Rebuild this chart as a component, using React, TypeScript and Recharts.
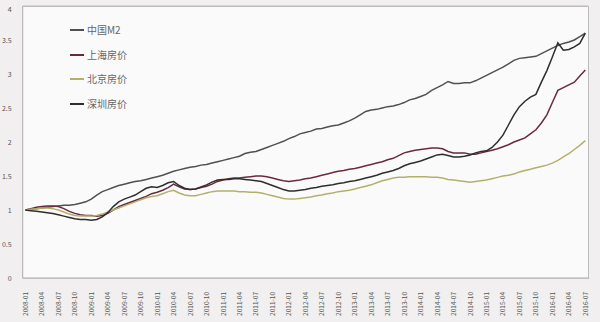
import React from 'react';
import { LineChart, Line, XAxis, YAxis, CartesianGrid, Legend } from 'recharts';

const years = ['2008', '2009', '2010', '2011', '2012', '2013', '2014', '2015', '2016'];
const months = ['01', '02', '03', '04', '05', '06', '07', '08', '09', '10', '11', '12'];
const categories: string[] = [];
years.forEach((y) => months.forEach((m) => { if (!(y === '2016' && Number(m) > 7)) categories.push(`${y}-${m}`); }));

const m2 = [
  1.00, 1.01, 1.02, 1.03, 1.04, 1.05, 1.06, 1.07, 1.07, 1.08, 1.10, 1.12,
  1.16, 1.22, 1.27, 1.30, 1.33, 1.36, 1.38, 1.40, 1.42, 1.43, 1.45, 1.47,
  1.49, 1.51, 1.54, 1.57, 1.59, 1.61, 1.63, 1.64, 1.66, 1.67, 1.69, 1.71,
  1.73, 1.75, 1.77, 1.79, 1.83, 1.85, 1.86, 1.89, 1.92, 1.95, 1.98, 2.01,
  2.05, 2.08, 2.12, 2.14, 2.16, 2.19, 2.20, 2.22, 2.24, 2.25, 2.28, 2.31,
  2.35, 2.40, 2.45, 2.47, 2.48, 2.50, 2.52, 2.53, 2.55, 2.58, 2.62, 2.64,
  2.67, 2.70, 2.76, 2.80, 2.84, 2.89, 2.86, 2.86, 2.87, 2.87, 2.90, 2.94,
  2.98, 3.02, 3.06, 3.10, 3.15, 3.20, 3.23, 3.24, 3.25, 3.26, 3.30, 3.34,
  3.38, 3.42, 3.45, 3.47, 3.50, 3.55, 3.60,
];

const shanghai = [
  1.00, 1.02, 1.04, 1.05, 1.06, 1.06, 1.05, 1.02, 0.98, 0.95, 0.93, 0.92,
  0.92, 0.91, 0.92, 0.95, 1.00, 1.05, 1.08, 1.11, 1.14, 1.17, 1.20, 1.24,
  1.26, 1.29, 1.33, 1.38, 1.34, 1.31, 1.30, 1.31, 1.33, 1.35, 1.38, 1.42,
  1.44, 1.46, 1.47, 1.47, 1.48, 1.49, 1.50, 1.50, 1.49, 1.47, 1.45, 1.43,
  1.42, 1.43, 1.44, 1.46, 1.47, 1.49, 1.51, 1.53, 1.55, 1.57, 1.58, 1.60,
  1.61, 1.63, 1.65, 1.67, 1.69, 1.71, 1.74, 1.76, 1.80, 1.84, 1.86, 1.88,
  1.89, 1.90, 1.91, 1.91, 1.90, 1.86, 1.84, 1.84, 1.84, 1.82, 1.82, 1.84,
  1.86, 1.88, 1.90, 1.93, 1.96, 2.00, 2.03, 2.06, 2.12, 2.18, 2.28, 2.40,
  2.58, 2.76, 2.80, 2.84, 2.88, 2.97, 3.06,
];

const beijing = [
  1.00, 1.01, 1.02, 1.03, 1.03, 1.02, 1.00, 0.97, 0.94, 0.92, 0.91, 0.91,
  0.91, 0.92, 0.94, 0.97, 1.00, 1.03, 1.06, 1.09, 1.12, 1.15, 1.18, 1.20,
  1.21, 1.24, 1.27, 1.29, 1.25, 1.22, 1.21, 1.21, 1.23, 1.25, 1.27, 1.28,
  1.28, 1.28, 1.28, 1.27, 1.27, 1.26, 1.26, 1.25, 1.23, 1.21, 1.19, 1.17,
  1.16, 1.16, 1.17, 1.18, 1.19, 1.21, 1.22, 1.24, 1.25, 1.27, 1.28, 1.29,
  1.31, 1.33, 1.35, 1.37, 1.40, 1.43, 1.45, 1.47, 1.48, 1.48, 1.49, 1.49,
  1.49, 1.49, 1.48, 1.48, 1.47, 1.45, 1.44, 1.43, 1.42, 1.41, 1.42, 1.43,
  1.44, 1.46, 1.48, 1.50, 1.51, 1.53, 1.56, 1.58, 1.60, 1.62, 1.64, 1.66,
  1.69, 1.73, 1.78, 1.83, 1.89, 1.95, 2.02,
];

const shenzhen = [
  1.00, 0.99, 0.98, 0.97, 0.96, 0.95, 0.93, 0.91, 0.89, 0.87, 0.86, 0.86,
  0.85, 0.86, 0.90, 0.96, 1.05, 1.12, 1.16, 1.19, 1.22, 1.27, 1.32, 1.34,
  1.33, 1.36, 1.40, 1.42, 1.36, 1.32, 1.30, 1.31, 1.34, 1.37, 1.41, 1.44,
  1.45, 1.45, 1.46, 1.46, 1.45, 1.44, 1.43, 1.42, 1.39, 1.36, 1.33, 1.30,
  1.28, 1.28, 1.29, 1.30, 1.32, 1.33, 1.35, 1.36, 1.37, 1.39, 1.40, 1.42,
  1.43, 1.45, 1.47, 1.49, 1.51, 1.54, 1.56, 1.58, 1.61, 1.65, 1.68, 1.70,
  1.72, 1.75, 1.78, 1.81, 1.82, 1.80, 1.78, 1.78, 1.79, 1.81, 1.84, 1.86,
  1.87, 1.92, 2.00, 2.10, 2.25, 2.40, 2.52, 2.60, 2.66, 2.70, 2.88, 3.05,
  3.25, 3.46, 3.35, 3.36, 3.40, 3.45, 3.60,
];

const yTicks = [0, 0.5, 1, 1.5, 2, 2.5, 3, 3.5, 4];

const seriesNames = ['中国M2', '上海房价', '北京房价', '深圳房价'];
const seriesKeys = ['m2', 'shanghai', 'beijing', 'shenzhen'];
const seriesColors = ['#505050', '#6a2a3c', '#b3b06c', '#2e2e2e'];

const data = categories.map((c, i) => ({
  month: c,
  m2: m2[i],
  shanghai: shanghai[i],
  beijing: beijing[i],
  shenzhen: shenzhen[i],
}));

const FONT = '"Noto Sans CJK SC", "Noto Sans", sans-serif';

const XTick = (props: any) => {
  const { x, y, payload } = props;
  return (
    <g transform={`translate(${x},${y + 6})`}>
      <text x={0} y={0} dy={2.5} textAnchor="end" transform="rotate(-90)" fontSize={6.5} fill="#555" fontFamily={FONT}>
        {payload.value}
      </text>
    </g>
  );
};

const YTick = (props: any) => {
  const { x, y, payload } = props;
  return (
    <text x={x - 3} y={y} dy={2.5} textAnchor="end" fontSize={7} fill="#555" fontFamily={FONT}>
      {String(payload.value)}
    </text>
  );
};

const LegendContent = () => (
  <div style={{ fontFamily: FONT, fontSize: 10, color: '#666', lineHeight: '14px' }}>
    {seriesNames.map((n, i) => (
      <div key={n} style={{ display: 'flex', alignItems: 'center', height: 24.5 }}>
        <span style={{ display: 'inline-block', width: 14, height: 2, background: seriesColors[i], marginRight: 3 }} />
        <span>{n}</span>
      </div>
    ))}
  </div>
);

export default function App() {
  return (
    <div style={{ position: 'absolute', left: 0, top: 0, width: 600, height: 322, background: '#f1efef' }}>
      <LineChart width={600} height={322} data={data} margin={{ top: 6, right: 12, left: 0, bottom: 0 }}>
        <rect x={22.7} y={6} width={565.3} height={272} fill="#fbfafa" />
        <CartesianGrid vertical={false} stroke="#bdbdbd" strokeWidth={1} />
        <XAxis
          dataKey="month"
          interval={2}
          tick={<XTick />}
          tickLine={false}
          axisLine={{ stroke: '#aaa' }}
          height={44}
          padding={{ left: 2.7, right: 2.7 }}
        />
        <YAxis
          domain={[0, 4]}
          ticks={yTicks}
          tick={<YTick />}
          tickLine={false}
          axisLine={{ stroke: '#aaa' }}
          width={22.7}
        />
        <Legend
          layout="vertical"
          verticalAlign="middle"
          align="center"
          wrapperStyle={{ position: 'absolute', left: 70, top: 18, width: 90 }}
          content={<LegendContent />}
        />
        {seriesKeys.map((k, i) => (
          <Line
            key={k}
            type="linear"
            dataKey={k}
            name={seriesNames[i]}
            stroke={seriesColors[i]}
            strokeWidth={1.5}
            dot={false}
            isAnimationActive={false}
          />
        ))}
      </LineChart>
      <div style={{ position: 'absolute', left: 22.7, top: 6, width: 565, height: 272, borderRight: '1px solid #bbb', borderTop: '1px solid #bbb', pointerEvents: 'none' }} />
    </div>
  );
}
